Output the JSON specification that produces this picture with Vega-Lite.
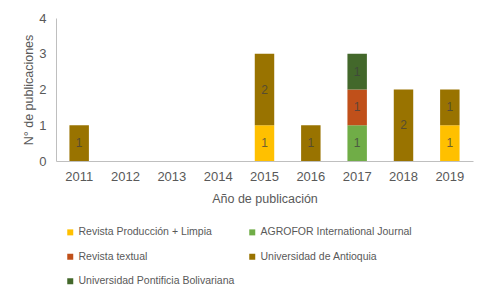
{
  "$schema": "https://vega.github.io/schema/vega-lite/v6.json",
  "width": 417,
  "height": 143,
  "autosize": {"type": "none"},
  "padding": {"left": 56, "top": 18, "right": 21, "bottom": 139},
  "background": "#ffffff",
  "config": {
    "font": "Liberation Sans",
    "view": {"stroke": null},
    "axis": {"grid": false, "ticks": false, "labelColor": "#595959", "titleColor": "#595959", "titleFontWeight": "normal", "domainColor": "#bfbfbf"}
  },
  "data": {
    "values": [
      {"anio": "2011", "revista": "Universidad de Antioquia", "n": 1},
      {"anio": "2015", "revista": "Revista Producción + Limpia", "n": 1},
      {"anio": "2015", "revista": "Universidad de Antioquia", "n": 2},
      {"anio": "2016", "revista": "Universidad de Antioquia", "n": 1},
      {"anio": "2017", "revista": "AGROFOR International Journal", "n": 1},
      {"anio": "2017", "revista": "Revista textual", "n": 1},
      {"anio": "2017", "revista": "Universidad Pontificia Bolivariana", "n": 1},
      {"anio": "2018", "revista": "Universidad de Antioquia", "n": 2},
      {"anio": "2019", "revista": "Revista Producción + Limpia", "n": 1},
      {"anio": "2019", "revista": "Universidad de Antioquia", "n": 1}
    ]
  },
  "transform": [
    {"stack": "n", "groupby": ["anio"], "sort": [{"field": "revista", "order": "ascending"}], "as": ["y0", "y1"]}
  ],
  "encoding": {
    "x": {
      "field": "anio", "type": "ordinal",
      "scale": {"domain": ["2011", "2012", "2013", "2014", "2015", "2016", "2017", "2018", "2019"], "paddingInner": 0.58, "paddingOuter": 0.29},
      "axis": {"title": "Año de publicación", "labelAngle": 0, "labelFontSize": 13, "labelPadding": 9, "titleFontSize": 12.5, "titlePadding": 9}
    },
    "y": {
      "field": "y1", "type": "quantitative",
      "scale": {"domain": [0, 4], "nice": false},
      "axis": {"title": "N° de publicaciones", "values": [0, 1, 2, 3, 4], "labelFontSize": 13, "labelPadding": 10, "titleFontSize": 12.5, "titlePadding": 3}
    }
  },
  "layer": [
    {
      "mark": {"type": "bar"},
      "encoding": {
        "y2": {"field": "y0"},
        "color": {
          "field": "revista", "type": "nominal",
          "scale": {
            "domain": ["Revista Producción + Limpia", "AGROFOR International Journal", "Revista textual", "Universidad de Antioquia", "Universidad Pontificia Bolivariana"],
            "range": ["#FFC000", "#70AD47", "#C0501A", "#997300", "#43682B"]
          },
          "legend": {
            "title": null, "orient": "none", "legendX": 9, "legendY": 209,
            "columns": 2, "direction": "horizontal", "columnPadding": 12, "rowPadding": 13.5,
            "symbolType": "square", "symbolSize": 36, "symbolStrokeWidth": 0, "symbolOffset": 0,
            "labelFontSize": 10.5, "labelColor": "#595959", "labelOffset": 3, "padding": 0, "labelLimit": 300
          }
        }
      }
    },
    {
      "mark": {"type": "text", "baseline": "middle", "align": "center", "fontSize": 12, "color": "#404040", "opacity": 0.75, "dy": 17.9},
      "transform": [{"filter": "datum.n == 1"}],
      "encoding": {
        "text": {"field": "n", "type": "quantitative"}
      }
    },
    {
      "mark": {"type": "text", "baseline": "middle", "align": "center", "fontSize": 12, "color": "#404040", "opacity": 0.75, "dy": 35.75},
      "transform": [{"filter": "datum.n == 2"}],
      "encoding": {
        "text": {"field": "n", "type": "quantitative"}
      }
    }
  ]
}
